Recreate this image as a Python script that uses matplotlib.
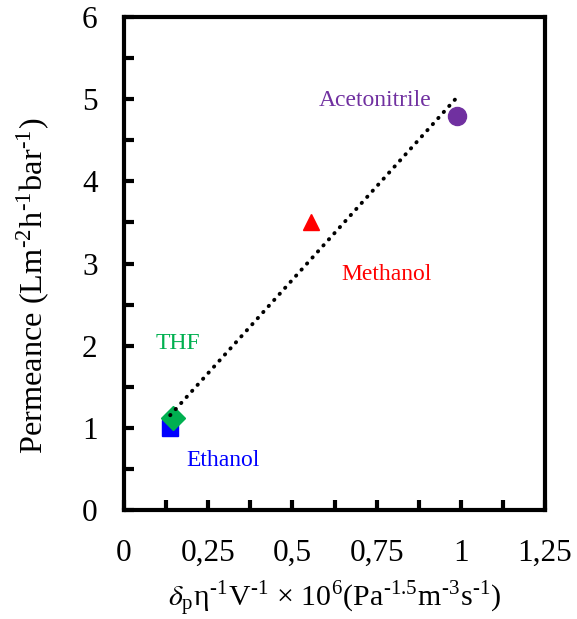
import numpy as np
import matplotlib
matplotlib.use("Agg")
import matplotlib.pyplot as plt

plt.rcParams['font.family'] = ['Liberation Serif', 'DejaVu Serif']
plt.rcParams['mathtext.fontset'] = 'stix'

# datos
solventes = ['Ethanol', 'THF', 'Methanol', 'Acetonitrile']
x_vals = [0.137, 0.146, 0.555, 0.988]
permeance = [1.0, 1.12, 3.5, 4.8]
colores = ['#0000FF', '#00B050', '#FF0000', '#7030A0']
marcadores = ['s', 'D', '^', 'o']
tamanos = [11.5, 12, 12, 13]

x_ticks = [0, 0.25, 0.5, 0.75, 1.0, 1.25]
x_ticklabels = ['0', '0,25', '0,5', '0,75', '1', '1,25']
y_ticks = [0, 1, 2, 3, 4, 5, 6]

# posiciones de las etiquetas (en datos)
etiquetas_pos = {
    'Acetonitrile': (0.745, 4.98),
    'Methanol': (0.78, 2.87),
    'THF': (0.16, 2.03),
    'Ethanol': (0.295, 0.6),
}

fig = plt.figure(figsize=(5.77, 6.19), dpi=100)
ax = fig.add_axes([0.215, 0.176, 0.7295, 0.7965])

# linea de tendencia
m, b = np.polyfit(x_vals, permeance, 1)
xt = np.array([min(x_vals), max(x_vals)])
ax.plot(xt, m * xt + b, color='black', lw=2.8, ls=(0, (0.1, 2.0)),
        dash_capstyle='round', zorder=3)

for nombre, x, y, c, mk, s in zip(solventes, x_vals, permeance, colores, marcadores, tamanos):
    ax.plot(x, y, marker=mk, color=c, markersize=s, ls='none', zorder=2)
    tx, ty = etiquetas_pos[nombre]
    ax.text(tx, ty, nombre, color=c, fontsize=17, ha='center', va='center')

ax.set_xlim(0, 1.25)
ax.set_ylim(0, 6)
ax.set_xticks(x_ticks)
ax.set_xticklabels(x_ticklabels)
ax.set_xticks(np.arange(0, 1.26, 0.125), minor=True)
ax.set_yticks(y_ticks)
ax.set_yticks(np.arange(0, 6.01, 0.5), minor=True)

for s in ax.spines.values():
    s.set_linewidth(3)
ax.tick_params(which='both', direction='in', width=3, length=7, labelsize=22.5, pad=19)
ax.tick_params(axis='x', pad=21)

h = '\u2010'
ax.set_ylabel(r'Permeance (Lm$^{\mathregular{' + h + r'2}}$h$^{\mathregular{' + h + r'1}}$bar$^{\mathregular{' + h + r'1}}$)',
              fontsize=23.3)
ax.yaxis.set_label_coords(-0.172, 0.456)
ax.set_xlabel(r'$\delta_{\mathregular{p}}$η$^{\mathregular{' + h + r'1}}$V$^{\mathregular{' + h + r'1}}$ × 10$^{\mathregular{6}}$'
              r'(Pa$^{\mathregular{' + h + r'1.5}}$m$^{\mathregular{' + h + r'3}}$s$^{\mathregular{' + h + r'1}}$)',
              fontsize=21.5, labelpad=8)

fig.savefig('out.png', dpi=100)
